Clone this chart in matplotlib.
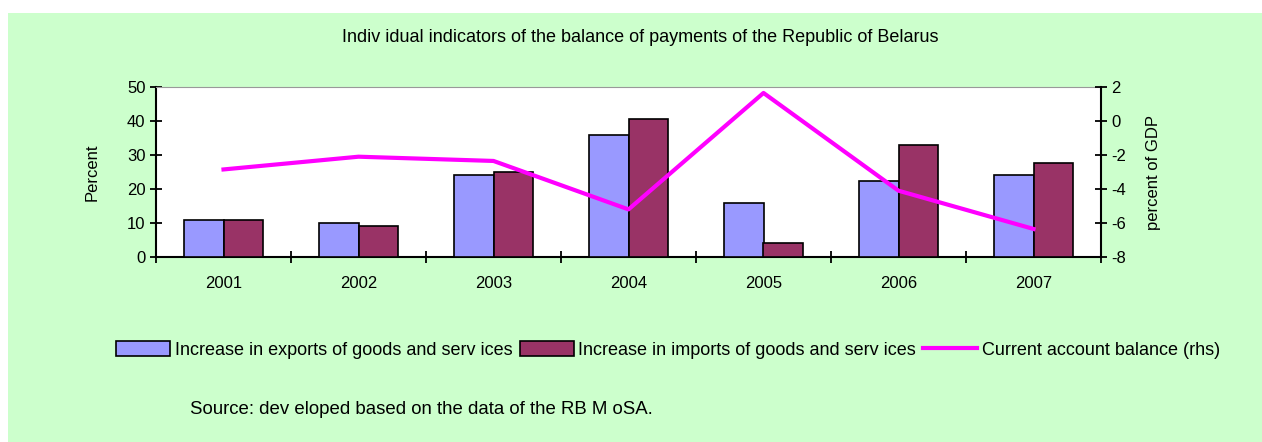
import matplotlib
matplotlib.use('Agg')
import matplotlib.pyplot as plt
from matplotlib.patches import Rectangle
from matplotlib.lines import Line2D
import numpy as np

GREEN_BG = '#ccffcc'
EXPORT_C = '#9999ff'
IMPORT_C = '#993366'
LINE_C = '#ff00ff'

years = ['2001', '2002', '2003', '2004', '2005', '2006', '2007']
exports = [11, 10, 24, 36, 16, 22.5, 24]
imports = [11, 9, 25, 40.5, 4, 33, 27.5]
current_account = [-2.85, -2.1, -2.35, -5.2, 1.65, -4.1, -6.35]

plt.rcParams['font.family'] = ['Liberation Sans', 'DejaVu Sans']
plt.rcParams['axes.unicode_minus'] = False

W, H = 1262, 442
fig = plt.figure(figsize=(W / 100, H / 100), dpi=100)
fig.patch.set_facecolor('white')
fig.patches.append(Rectangle((8 / W, 0), 1 - 8 / W, 1 - 13 / H, transform=fig.transFigure,
                             facecolor=GREEN_BG, edgecolor='none', zorder=-10))

left, right, top, bottom = 156, 1101, 87, 257
ax = fig.add_axes([left / W, 1 - bottom / H, (right - left) / W, (bottom - top) / H])
ax.set_facecolor('white')

x = np.arange(len(years))
w = 0.29
ax.bar(x - w / 2, exports, w, color=EXPORT_C, edgecolor='black', linewidth=1.2, zorder=3)
ax.bar(x + w / 2, imports, w, color=IMPORT_C, edgecolor='black', linewidth=1.2, zorder=3)
ax.set_xlim(-0.5, len(years) - 0.5)
ax.set_ylim(0, 50)
ax.set_yticks(range(0, 51, 10))
ax.set_xticks(np.arange(-0.5, len(years) - 0.4, 1))
ax.set_xticklabels([])
ax.set_xticks(x, minor=True)
ax.set_xticklabels(years, minor=True, fontsize=12)
ax.tick_params(axis='x', which='minor', length=0, pad=14)
ax.tick_params(axis='x', which='major', direction='inout', length=8, width=1.3)
ax.tick_params(axis='y', direction='inout', length=8, width=1.3, labelsize=12)
ax.set_ylabel('Percent', fontsize=12, labelpad=20)
for s in ['left', 'bottom']:
    ax.spines[s].set_linewidth(1.5)
ax.spines['top'].set_color('#999999')
ax.spines['right'].set_visible(False)

ax2 = ax.twinx()
ax2.plot(x, current_account, color=LINE_C, linewidth=3, zorder=5)
ax2.set_ylim(-8, 2)
ax2.set_yticks(range(-8, 3, 2))
ax2.tick_params(axis='y', direction='inout', length=8, width=1.3, labelsize=12)
ax2.spines['right'].set_linewidth(1.5)
ax2.spines['top'].set_visible(False)
ax2.spines['left'].set_visible(False)
ax2.spines['bottom'].set_visible(False)
ax2.set_ylabel('percent of GDP', fontsize=12, labelpad=14)

fig.text(640 / W, 1 - 38 / H, 'Indiv idual indicators of the balance of payments of the Republic of Belarus',
         ha='center', va='center', fontsize=13)

handles = [Rectangle((0, 0), 1, 1, facecolor=EXPORT_C, edgecolor='black', linewidth=1.2),
           Rectangle((0, 0), 1, 1, facecolor=IMPORT_C, edgecolor='black', linewidth=1.2),
           Line2D([], [], color=LINE_C, linewidth=3)]
labels = ['Increase in exports of goods and serv ices',
          'Increase in imports of goods and serv ices',
          'Current account balance (rhs)']
fig.legend(handles, labels, loc='center', bbox_to_anchor=(668 / W, 1 - 350 / H), ncol=3,
           frameon=False, fontsize=13, handlelength=3.0, handletextpad=0.25,
           columnspacing=0.4, handleheight=0.9)

fig.text(190 / W, 1 - 409 / H, 'Source: dev eloped based on the data of the RB M oSA.',
         ha='left', va='center', fontsize=13.4)

fig.savefig('out.png', dpi=100)
